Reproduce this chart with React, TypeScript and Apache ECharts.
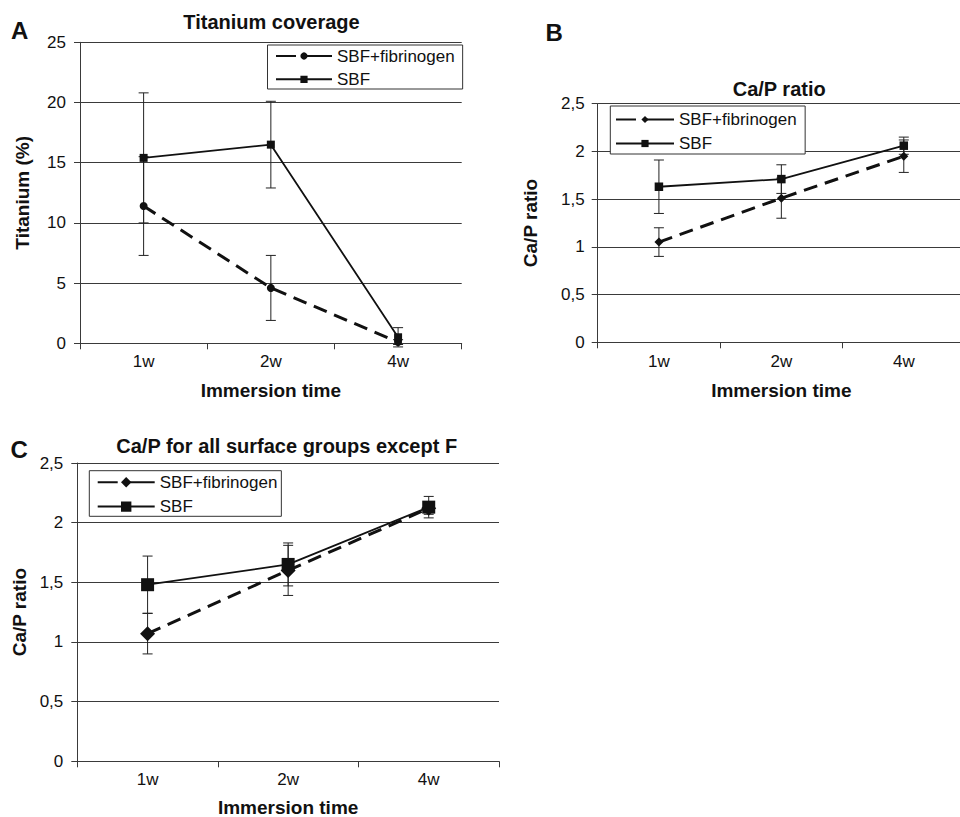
import React, { useEffect, useRef } from 'react';
import * as echarts from 'echarts';

// ---------- data ----------
const categories = ['1w', '2w', '4w'];
const seriesNames = ['SBF+fibrinogen', 'SBF'];

// Panel A: Titanium coverage (%)
const titaniumTicks = [0, 5, 10, 15, 20, 25];
const titaniumFib = [11.4, 4.6, 0.1];
const titaniumFibErr = [4.1, 2.7, 0.2];
const titaniumSbf = [15.4, 16.5, 0.5];
const titaniumSbfErr = [5.4, 3.6, 0.8];

// Panel B: Ca/P ratio
const ratioTicks = [0, 0.5, 1, 1.5, 2, 2.5];
const ratioFib = [1.05, 1.51, 1.95];
const ratioFibErr = [0.15, 0.21, 0.17];
const ratioSbf = [1.63, 1.71, 2.06];
const ratioSbfErr = [0.28, 0.15, 0.09];

// Panel C: Ca/P for all surface groups except F
const allFib = [1.07, 1.6, 2.12];
const allFibErr = [0.17, 0.21, 0.05];
const allSbf = [1.48, 1.65, 2.13];
const allSbfErr = [0.24, 0.18, 0.09];

// ---------- styling ----------
const FONT = "'Liberation Sans', Arial, Helvetica, sans-serif";
const INK = '#111';
const GRID = '#3a3a3a';

type PanelCfg = {
  letter: string;
  letterX: number;
  letterY: number;
  title: string;
  titleX: number;
  titleY: number;
  grid: { left: number; top: number; right: number; bottom: number };
  ticks: number[];
  comma: boolean;
  yName: string;
  yNameGap: number;
  xNameGap: number;
  xLabelMargin: number;
  yLabelMargin: number;
  fib: number[];
  fibErr: number[];
  sbf: number[];
  sbfErr: number[];
  fibSymbol: string;
  fibSize: number;
  sbfSize: number;
  legend: { left: number; top: number; itemWidth: number; itemHeight: number; itemGap: number; padding: number[] };
};

function errorSeries(values: number[], errs: number[]) {
  return {
    type: 'custom',
    silent: true,
    z: 1,
    clip: false,
    data: values.map((v, i) => [i, v - errs[i], v + errs[i]]),
    encode: { x: 0, y: [1, 2] },
    renderItem: (params: any, api: any) => {
      const x = api.value(0);
      const lo = api.coord([x, api.value(1)]);
      const hi = api.coord([x, api.value(2)]);
      const hw = 5;
      const style = { stroke: '#222', lineWidth: 1 };
      return {
        type: 'group',
        children: [
          { type: 'line', shape: { x1: lo[0], y1: lo[1], x2: hi[0], y2: hi[1] }, style },
          { type: 'line', shape: { x1: lo[0] - hw, y1: lo[1], x2: lo[0] + hw, y2: lo[1] }, style },
          { type: 'line', shape: { x1: hi[0] - hw, y1: hi[1], x2: hi[0] + hw, y2: hi[1] }, style },
        ],
      };
    },
  };
}

function buildOption(c: PanelCfg): any {
  const fmt = (v: number) => (c.comma ? String(v).replace('.', ',') : String(v));
  const interval = c.ticks[1] - c.ticks[0];
  return {
    animation: false,
    textStyle: { fontFamily: FONT },
    graphic: [
      {
        type: 'text',
        x: c.letterX,
        y: c.letterY,
        style: { text: c.letter, font: `bold 24px ${FONT}`, fill: INK, textAlign: 'left', textVerticalAlign: 'top' },
      },
      {
        type: 'text',
        x: c.titleX,
        y: c.titleY,
        style: { text: c.title, font: `bold 20px ${FONT}`, fill: INK, textAlign: 'center', textVerticalAlign: 'top' },
      },
    ],
    legend: {
      orient: 'vertical',
      left: c.legend.left,
      top: c.legend.top,
      itemWidth: c.legend.itemWidth,
      itemHeight: c.legend.itemHeight,
      itemGap: c.legend.itemGap,
      padding: c.legend.padding,
      backgroundColor: '#fff',
      borderColor: '#333',
      borderWidth: 1,
      borderRadius: 0,
      selectedMode: false,
      data: [
        { name: seriesNames[0], lineStyle: { width: 2, type: [20, 8, 32, 8] } },
        { name: seriesNames[1], lineStyle: { width: 2 } },
      ],
      textStyle: { fontFamily: FONT, fontSize: 17, color: INK },
    },
    grid: { ...c.grid, containLabel: false, outerBoundsMode: 'none' },
    xAxis: {
      type: 'category',
      data: categories,
      boundaryGap: true,
      axisLine: { show: true, lineStyle: { color: GRID, width: 1 } },
      axisTick: { show: true, length: 6, inside: false, lineStyle: { color: GRID, width: 1 } },
      axisLabel: { fontFamily: FONT, fontSize: 17, color: INK, margin: c.xLabelMargin },
      splitLine: { show: false },
      name: 'Immersion time',
      nameLocation: 'middle',
      nameGap: c.xNameGap,
      nameMoveOverlap: false,
      nameTextStyle: { fontFamily: FONT, fontSize: 19, fontWeight: 'bold', color: INK },
    },
    yAxis: {
      type: 'value',
      min: c.ticks[0],
      max: c.ticks[c.ticks.length - 1],
      interval,
      axisLine: { show: true, lineStyle: { color: GRID, width: 1 } },
      axisTick: { show: true, length: 6, inside: false, lineStyle: { color: GRID, width: 1 } },
      axisLabel: { fontFamily: FONT, fontSize: 17, color: INK, margin: c.yLabelMargin, formatter: fmt },
      splitLine: { show: true, lineStyle: { color: GRID, width: 1 } },
      name: c.yName,
      nameLocation: 'middle',
      nameGap: c.yNameGap,
      nameMoveOverlap: false,
      nameTextStyle: { fontFamily: FONT, fontSize: 19, fontWeight: 'bold', color: INK },
    },
    series: [
      errorSeries(c.fib, c.fibErr),
      errorSeries(c.sbf, c.sbfErr),
      {
        type: 'line',
        name: seriesNames[0],
        data: c.fib,
        z: 3,
        symbol: c.fibSymbol,
        symbolSize: c.fibSize,
        showAllSymbol: true,
        itemStyle: { color: INK, borderWidth: 0 },
        lineStyle: { color: INK, width: 3, type: [14, 8] },
      },
      {
        type: 'line',
        name: seriesNames[1],
        data: c.sbf,
        z: 4,
        symbol: 'rect',
        symbolSize: c.sbfSize,
        showAllSymbol: true,
        itemStyle: { color: INK, borderWidth: 0 },
        lineStyle: { color: INK, width: 1.8, type: 'solid' },
      },
    ],
  };
}

const panelA: PanelCfg = {
  letter: 'A',
  letterX: 11,
  letterY: 18.6,
  title: 'Titanium coverage',
  titleX: 271.5,
  titleY: 12.4,
  grid: { left: 80, top: 42.3, right: 18.3, bottom: 56.7 },
  ticks: titaniumTicks,
  comma: false,
  yName: 'Titanium (%)',
  yNameGap: 48,
  xNameGap: 37.5,
  xLabelMargin: 10,
  yLabelMargin: 14,
  fib: titaniumFib,
  fibErr: titaniumFibErr,
  sbf: titaniumSbf,
  sbfErr: titaniumSbfErr,
  fibSymbol: 'circle',
  fibSize: 8,
  sbfSize: 8,
  legend: { left: 267.5, top: 45, itemWidth: 56, itemHeight: 9, itemGap: 6.3, padding: [2.5, 8, 1.2, 7.5] },
};

const panelB: PanelCfg = {
  letter: 'B',
  letterX: 65.5,
  letterY: 20.2,
  title: 'Ca/P ratio',
  titleX: 299.2,
  titleY: 79.1,
  grid: { left: 117.7, top: 103.7, right: -5, bottom: 57.7 },
  ticks: ratioTicks,
  comma: true,
  yName: 'Ca/P ratio',
  yNameGap: 58,
  xNameGap: 38.5,
  xLabelMargin: 11,
  yLabelMargin: 13,
  fib: ratioFib,
  fibErr: ratioFibErr,
  sbf: ratioSbf,
  sbfErr: ratioSbfErr,
  fibSymbol: 'diamond',
  fibSize: 9,
  sbfSize: 8.5,
  legend: { left: 130.3, top: 106, itemWidth: 58, itemHeight: 9, itemGap: 7, padding: [5, 8.5, 2, 4.7] },
};

const panelC: PanelCfg = {
  letter: 'C',
  letterX: 10.5,
  letterY: 37,
  title: 'Ca/P for all surface groups except F',
  titleX: 286.7,
  titleY: 35.7,
  grid: { left: 77.3, top: 63, right: 31, bottom: 55.7 },
  ticks: ratioTicks,
  comma: true,
  yName: 'Ca/P ratio',
  yNameGap: 48.8,
  xNameGap: 37,
  xLabelMargin: 10,
  yLabelMargin: 14,
  fib: allFib,
  fibErr: allFibErr,
  sbf: allSbf,
  sbfErr: allSbfErr,
  fibSymbol: 'diamond',
  fibSize: 15,
  sbfSize: 13,
  legend: { left: 89.3, top: 70.7, itemWidth: 57, itemHeight: 13, itemGap: 7.4, padding: [3, 4, 1.2, 7.4] },
};

function Panel({ cfg, style }: { cfg: PanelCfg; style: React.CSSProperties }) {
  const ref = useRef<HTMLDivElement>(null);
  useEffect(() => {
    if (!ref.current) return;
    const chart = echarts.init(ref.current, undefined, { renderer: 'svg' });
    chart.setOption(buildOption(cfg));
    return () => chart.dispose();
  }, [cfg]);
  return <div ref={ref} style={{ position: 'absolute', ...style }} />;
}

export default function App() {
  return (
    <div style={{ position: 'absolute', left: 0, top: 0, width: 960, height: 817, background: '#fff', overflow: 'hidden' }}>
      <Panel cfg={panelA} style={{ left: 0, top: 0, width: 480, height: 400 }} />
      <Panel cfg={panelB} style={{ left: 480, top: 0, width: 480, height: 400 }} />
      <Panel cfg={panelC} style={{ left: 0, top: 400, width: 530, height: 417 }} />
    </div>
  );
}
